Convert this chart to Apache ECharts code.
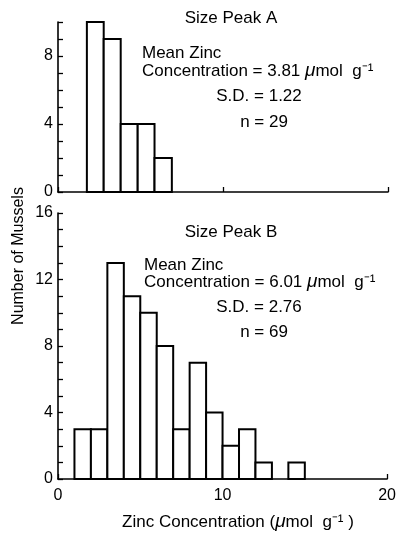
<!DOCTYPE html>
<html>
<head>
<meta charset="utf-8">
<script src="https://cdn.jsdelivr.net/npm/echarts@6/dist/echarts.min.js"></script>
<style>
  html, body { margin: 0; padding: 0; background: #fff; }
  #main { width: 399px; height: 535px; }
</style>
</head>
<body>
<div id="main"></div>
<script>
// 数据 - Size Peak A (上图), 读图得到的柱子左右边界和个数
var binLoA = [1.75, 2.77, 3.8, 4.83, 5.85];
var binHiA = [2.77, 3.8, 4.83, 5.85, 6.9];
var countA = [10, 9, 4, 4, 2];

// Size Peak B (下图)
var binLoB = [1, 2, 3, 4, 5, 6, 7, 8, 9, 10, 11, 12, 14];
var binHiB = [2, 3, 4, 5, 6, 7, 8, 9, 10, 11, 12, 13, 15];
var countB = [3, 3, 13, 11, 10, 8, 3, 7, 4, 2, 3, 1, 1];

var xTicks = [0, 10, 20];
var yLabelsA = [0, 4, 8];
var yLabelsB = [0, 4, 8, 12, 16];

var FONT = 'Liberation Sans, Arial, sans-serif';
var MU = { mu: { fontFamily: FONT, fontSize: 19, fontStyle: 'italic', fill: '#000' } };

function toRows(lo, hi, cnt) {
  var rows = [];
  for (var i = 0; i < cnt.length; i++) {
    rows.push([lo[i], hi[i], cnt[i]]);
  }
  return rows;
}

function renderBin(params, api) {
  var p0 = api.coord([api.value(0), 0]);
  var p1 = api.coord([api.value(1), api.value(2)]);
  return {
    type: 'rect',
    shape: { x: p0[0], y: p1[1], width: p1[0] - p0[0], height: p0[1] - p1[1] },
    style: { fill: '#fff', stroke: '#000', lineWidth: 2 }
  };
}

function yAxisFor(idx, max, labels) {
  return {
    type: 'value', gridIndex: idx, min: 0, max: max, interval: 1,
    axisLine: { show: true, lineStyle: { color: '#000', width: 1.6 } },
    axisTick: { show: true, inside: true, length: 5, lineStyle: { color: '#000', width: 1.3 } },
    axisLabel: {
      color: '#000', fontFamily: FONT, fontSize: 16, margin: 5,
      formatter: function (v) { return labels.indexOf(v) >= 0 ? String(v) : ''; }
    },
    splitLine: { show: false }
  };
}

function xAxisFor(idx, showLabel) {
  return {
    type: 'value', gridIndex: idx, min: 0, max: 20, interval: 10,
    axisLine: { show: true, onZero: false, lineStyle: { color: '#000', width: 1.6 } },
    axisTick: { show: true, inside: true, length: 5, lineStyle: { color: '#000', width: 1.3 } },
    axisLabel: {
      show: showLabel, color: '#000', fontFamily: FONT, fontSize: 16, margin: 9,
      formatter: function (v) { return xTicks.indexOf(v) >= 0 ? String(v) : ''; }
    },
    splitLine: { show: false }
  };
}

function note(x, y, txt, align, size) {
  return {
    type: 'text', x: x, y: y,
    style: {
      text: txt, fontFamily: FONT, fontSize: size || 17, fill: '#000',
      textAlign: align, textVerticalAlign: 'middle', rich: MU
    }
  };
}

var chart = echarts.init(document.getElementById('main'), null, { renderer: 'canvas' });

var option = {
  backgroundColor: '#fff',
  animation: false,
  grid: [
    { left: 58, width: 330, top: 22, height: 170 },
    { left: 58, width: 330, top: 213, height: 266 }
  ],
  xAxis: [xAxisFor(0, false), xAxisFor(1, true)],
  yAxis: [yAxisFor(0, 10, yLabelsA), yAxisFor(1, 16, yLabelsB)],
  series: [
    { type: 'custom', xAxisIndex: 0, yAxisIndex: 0, renderItem: renderBin,
      encode: { x: [0, 1], y: 2 }, data: toRows(binLoA, binHiA, countA) },
    { type: 'custom', xAxisIndex: 1, yAxisIndex: 1, renderItem: renderBin,
      encode: { x: [0, 1], y: 2 }, data: toRows(binLoB, binHiB, countB) }
  ],
  graphic: [
    // 上图注释
    note(231, 18, 'Size Peak A', 'center'),
    note(142, 53, 'Mean Zinc', 'left'),
    note(142, 71, 'Concentration = 3.81 {mu|μ}mol  g⁻¹', 'left'),
    note(259, 96, 'S.D. = 1.22', 'center'),
    note(264, 122, 'n = 29', 'center'),
    // 下图注释
    note(231, 232, 'Size Peak B', 'center'),
    note(144, 265, 'Mean Zinc', 'left'),
    note(144, 282, 'Concentration = 6.01 {mu|μ}mol  g⁻¹', 'left'),
    note(259, 307, 'S.D. = 2.76', 'center'),
    note(264, 332, 'n = 69', 'center'),
    // 轴标题
    { type: 'text', x: 19, y: 256, rotation: Math.PI / 2, style: { text: 'Number of Mussels', fontFamily: FONT, fontSize: 16, fill: '#000', textAlign: 'center', textVerticalAlign: 'middle' } },
    note(238, 522, 'Zinc Concentration ({mu|μ}mol  g⁻¹ )', 'center')
  ]
};

chart.setOption(option);
</script>
</body>
</html>
